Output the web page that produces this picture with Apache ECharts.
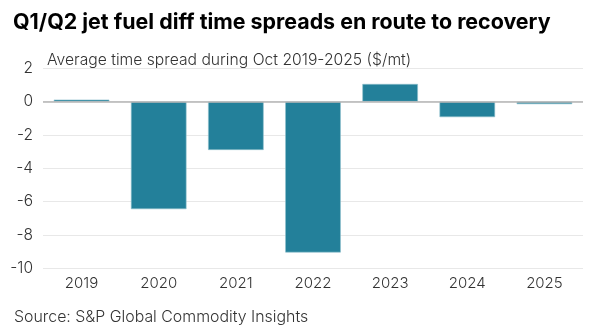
<!DOCTYPE html>
<html>
<head>
<meta charset="utf-8">
<script src="https://cdn.jsdelivr.net/npm/echarts@6/dist/echarts.min.js"></script>
<style>
  html, body { margin: 0; padding: 0; background: #fff; }
  #chart { width: 595px; height: 332px; }
</style>
</head>
<body>
<div id="chart"></div>
<script>
// Average Oct time spread of Q1/Q2 jet fuel diff, by year ($/mt)
const years = ['2019', '2020', '2021', '2022', '2023', '2024', '2025'];
const spreads = [0.12, -6.45, -2.9, -9.05, 1.06, -0.93, -0.15];
const yTicks = { min: -10, max: 2, step: 2 };

const chart = echarts.init(document.getElementById('chart'), null, { renderer: 'canvas' });
const font = 'Inter';
const textColor = '#333';

chart.setOption({
  animation: false,
  backgroundColor: '#ffffff',
  title: [
    {
      text: 'Q1/Q2 jet fuel diff time spreads en route to recovery',
      left: 8, top: 7,
      textStyle: { fontFamily: font, fontWeight: 'bold', fontSize: 21.4, color: '#000' }
    },
    {
      text: 'Average time spread during Oct 2019-2025 ($/mt)',
      left: 42, top: 47,
      textStyle: { fontFamily: font, fontWeight: 300, fontSize: 15.7, color: textColor }
    },
    {
      text: 'Source: S&P Global Commodity Insights',
      left: 9, top: 304,
      textStyle: { fontFamily: font, fontWeight: 300, fontSize: 15.9, color: textColor }
    }
  ],
  grid: { left: 43, right: 12, top: 68.3, bottom: 63.7, containLabel: false },
  xAxis: {
    type: 'category',
    data: years,
    axisLine: { show: false },
    axisTick: { show: false },
    axisLabel: { fontFamily: font, fontWeight: 300, fontSize: 15, color: textColor, margin: 8 }
  },
  yAxis: {
    type: 'value',
    min: yTicks.min, max: yTicks.max, interval: yTicks.step,
    axisLine: { show: false },
    axisTick: { show: false },
    splitLine: { lineStyle: { color: '#e8e8e8', width: 1 } },
    axisLabel: { fontFamily: font, fontWeight: 300, fontSize: 15.5, color: textColor, margin: 10 }
  },
  series: [{
    type: 'bar',
    data: spreads,
    barWidth: '72%',
    itemStyle: { color: '#23809a', borderColor: '#8fc0cd', borderWidth: 0.6 },
    markLine: {
      silent: true,
      symbol: 'none',
      label: { show: false },
      lineStyle: { color: '#b4b4b4', width: 1.5, type: 'solid' },
      data: [{ yAxis: 0 }]
    }
  }]
});
</script>
</body>
</html>
